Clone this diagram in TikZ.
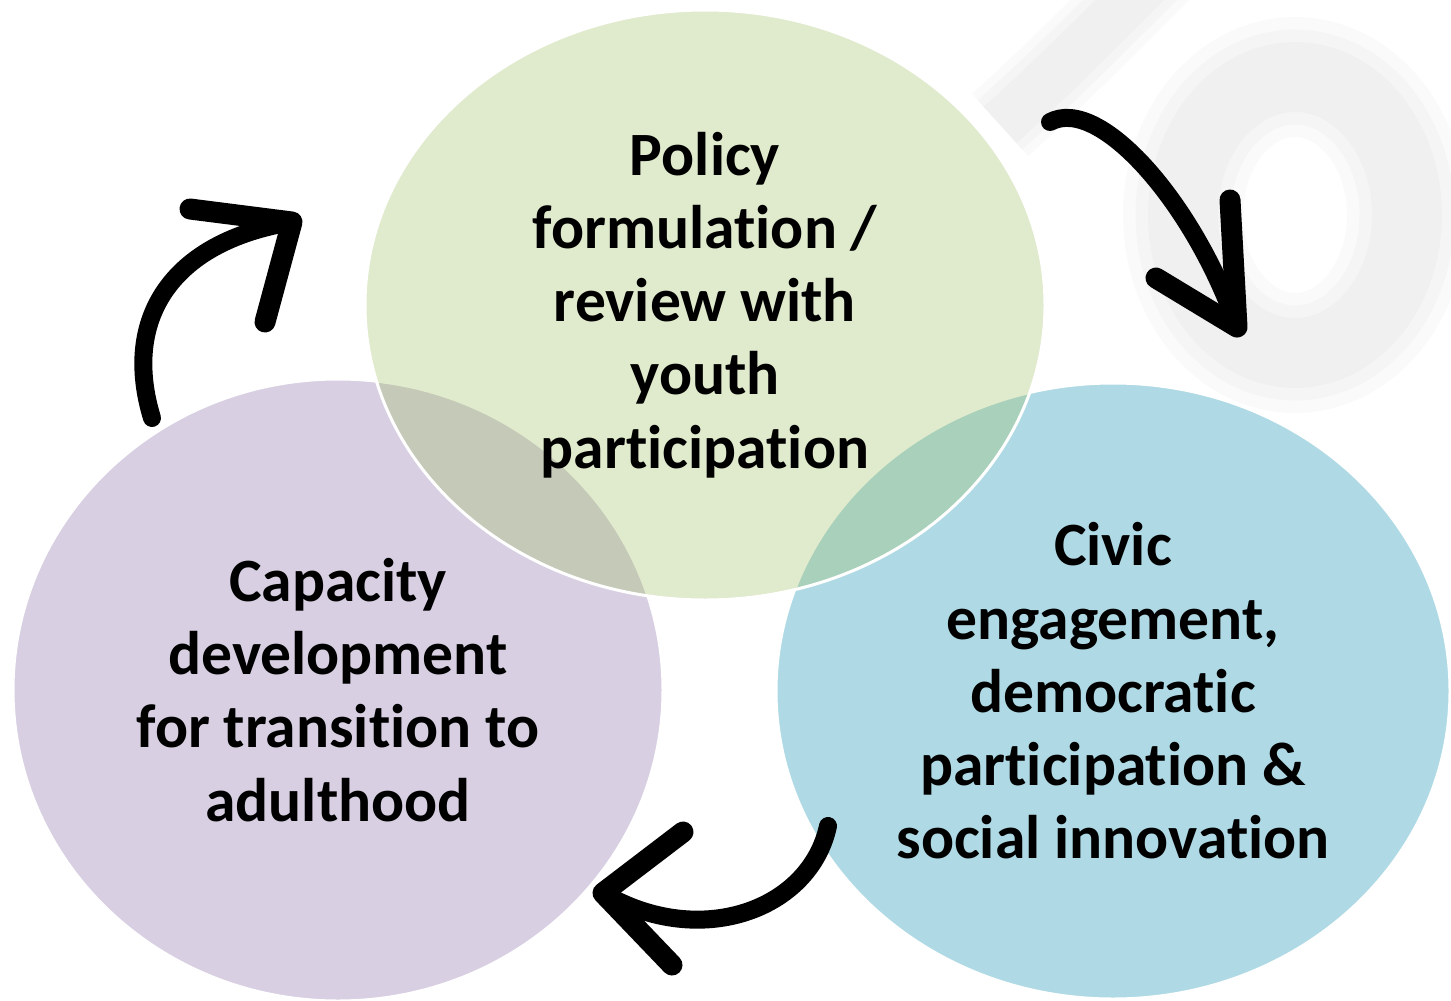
\documentclass[tikz,border=0pt]{standalone}
\usepackage{fontspec}
\setmainfont{Carlito}[Ligatures=NoCommon]
\usetikzlibrary{shapes.geometric}

\definecolor{olive}{HTML}{9BBB59}
\definecolor{lilac}{HTML}{8064A2}
\definecolor{aqua}{HTML}{4BACC6}

\begin{document}
\begin{tikzpicture}[x=0.5pt, y=-0.5pt]
    \tikzstyle{cycle blob} = [ellipse, draw=white, line width=1.5pt, text opacity=1, align=center, inner sep=0pt,
        font=\fontsize{30.8}{36.6}\selectfont\bfseries]
    \tikzstyle{mark ring} = [draw=black, line cap=butt, draw opacity=0.02]
    \tikzstyle{hand arrow} = [draw=black, line width=9pt, line cap=round, line join=round]
    \tikzstyle{hand head} = [hand arrow, line width=10.5pt]
\useasboundingbox (0,0) rectangle (1451,1001);
\fill[white] (0,0) rectangle (1451,1001);
\foreach \w in {120,95,70} {
    \draw[mark ring, line width=\w*0.5pt] (1295,215) ellipse [x radius=112, y radius=138];
    \draw[mark ring, line width=\w*0.35pt] (1160,-30) .. controls (1100,30) and (1050,80) .. (1000,125);
}
\node[cycle blob, fill=lilac, fill opacity=0.3, minimum width=325pt, minimum height=311pt] (capacity) at (338,690)
    {Capacity\\development\\for transition to\\adulthood};
\node[cycle blob, fill=aqua, fill opacity=0.44, minimum width=337pt, minimum height=308pt] (civic) at (1113,691)
    {Civic\\engagement,\\democratic\\participation \&\\social innovation};
\node[cycle blob, fill=olive, fill opacity=0.3, minimum width=340pt, minimum height=295pt] (policy) at (705,305)
    {Policy\\formulation /\\review with\\youth\\participation};
\coordinate (a1s) at (1050,122);
\coordinate (a1t) at (1237,327);
\coordinate (a2s) at (828,826);
\coordinate (a2t) at (603,893);
\coordinate (a3s) at (152,418);
\coordinate (a3t) at (292,222);
\draw[hand arrow] (a1s) .. controls (1100,95) and (1195,205) .. (a1t);
\draw[hand head] (1230,200) -- (a1t) -- (1156,278);
\draw[hand arrow] (a2s) .. controls (810,910) and (700,950) .. (a2t);
\draw[hand head] (683,832) -- (a2t) -- (672,965);
\draw[hand arrow] (a3s) .. controls (122,320) and (170,242) .. (a3t);
\draw[hand head] (190,209) -- (a3t) -- (265,322);
\end{tikzpicture}
\end{document}
